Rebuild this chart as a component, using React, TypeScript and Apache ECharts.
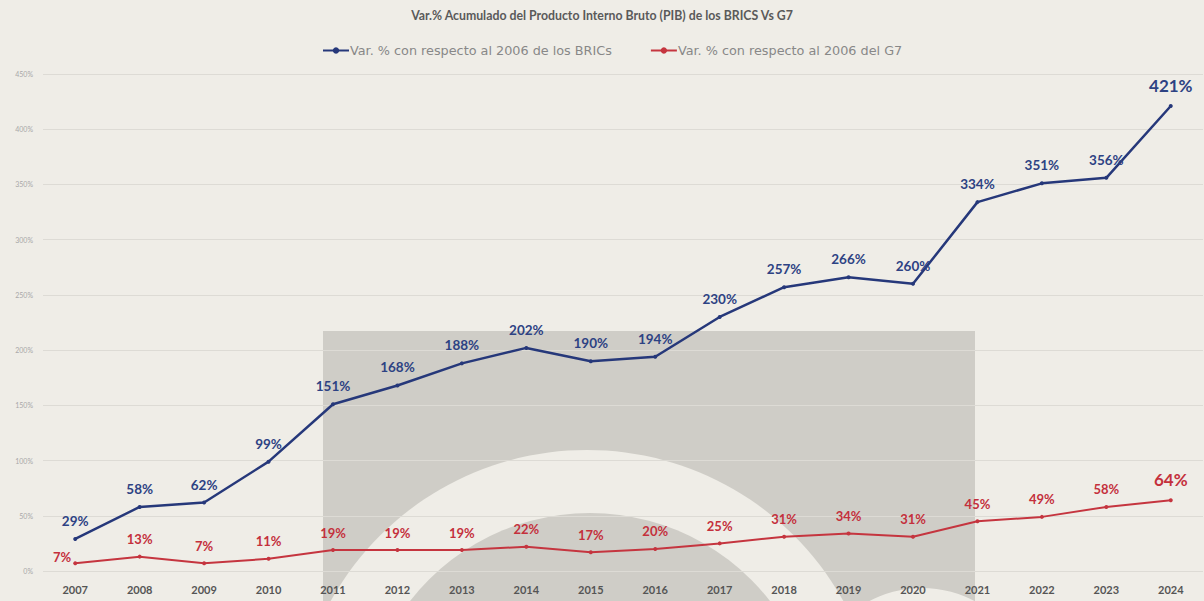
import React, { useEffect, useRef } from "react";
import * as echarts from "echarts";

const years = ["2007","2008","2009","2010","2011","2012","2013","2014","2015","2016","2017","2018","2019","2020","2021","2022","2023","2024"];
const brics = [29,58,62,99,151,168,188,202,190,194,230,257,266,260,334,351,356,421];
const g7 = [7,13,7,11,19,19,19,22,17,20,25,31,34,31,45,49,58,64];
const titleText = "Var.% Acumulado del Producto Interno Bruto (PIB) de los BRICS Vs G7";
const bricsName = "Var. % con respecto al 2006 de los BRICs";
const g7Name = "Var. % con respecto al 2006 del G7";

const BG = "#efede7";
const GRAY = "#cfcdc7";
const NAVY = "#26387a";
const RED = "#c5353f";
const FONT = "Lato, 'Open Sans', sans-serif";

export default function App() {
  const ref = useRef<HTMLDivElement>(null);
  useEffect(() => {
    document.body.style.margin = "0";
    const chart = echarts.init(ref.current!, undefined, { renderer: "svg" });
    const last = brics.length - 1;
    chart.setOption({
      animation: false,
      backgroundColor: BG,
      textStyle: { fontFamily: FONT },
      title: {
        text: titleText,
        left: "center",
        top: 4,
        textStyle: { fontSize: 12.3, fontWeight: "bold", color: "#5a5a5a", fontFamily: FONT },
      },
      legend: {
        top: 39,
        left: 317,
        itemGap: 38,
        itemWidth: 26,
        itemHeight: 8,
        textStyle: { fontSize: 12.8, color: "#888", fontFamily: "'DejaVu Sans', sans-serif", padding: [0, 0, 0, -4] },
        data: [bricsName, g7Name],
      },
      graphic: [
        { type: "rect", z: -10, shape: { x: 323, y: 331, width: 652, height: 280 }, style: { fill: GRAY } },
        { type: "circle", z: -9, shape: { cx: 587, cy: 743, r: 293 }, style: { fill: BG } },
        { type: "circle", z: -8, shape: { cx: 590, cy: 741, r: 228 }, style: { fill: GRAY } },
        { type: "circle", z: -8, shape: { cx: 922, cy: 700, r: 112 }, style: { fill: BG } },
      ],
      grid: { left: 43, right: 1, top: 74, bottom: 30, containLabel: false },
      xAxis: {
        type: "category",
        data: years,
        boundaryGap: true,
        axisLine: { show: false },
        axisTick: { show: false },
        axisLabel: { color: "#555", fontSize: 11, fontWeight: "bold", margin: 13, fontFamily: FONT },
      },
      yAxis: {
        type: "value",
        min: 0,
        max: 450,
        interval: 50,
        axisLine: { show: false },
        axisTick: { show: false },
        axisLabel: { formatter: "{value}%", color: "#a8a8a8", fontSize: 7, margin: 10 },
        splitLine: { lineStyle: { color: "#dddbd5", width: 1 } },
      },
      series: [
        {
          name: bricsName,
          type: "line",
          data: brics.map((v, i) =>
            i === last
              ? { value: v, label: { fontSize: 17, distance: 10 } }
              : v
          ),
          symbol: "circle",
          symbolSize: 4,
          itemStyle: { color: NAVY },
          lineStyle: { color: NAVY, width: 2.5 },
          label: {
            show: true,
            position: "top",
            distance: 9,
            formatter: "{c}%",
            color: "#2d4283",
            fontSize: 13.5,
            fontWeight: "bold",
            fontFamily: FONT,
          },
        },
        {
          name: g7Name,
          type: "line",
          data: g7.map((v, i) =>
            i === 0
              ? { value: v, label: { position: "left", distance: 2, offset: [0, -6] } }
              : i === last
              ? { value: v, label: { fontSize: 17, distance: 10 } }
              : v
          ),
          symbol: "circle",
          symbolSize: 4,
          itemStyle: { color: RED },
          lineStyle: { color: RED, width: 2 },
          label: {
            show: true,
            position: "top",
            distance: 9,
            formatter: "{c}%",
            color: "#c4303c",
            fontSize: 13,
            fontWeight: "bold",
            fontFamily: FONT,
          },
        },
      ],
    });
    return () => chart.dispose();
  }, []);
  return <div ref={ref} style={{ position: "absolute", left: 0, top: 0, width: 1204, height: 601 }} />;
}
